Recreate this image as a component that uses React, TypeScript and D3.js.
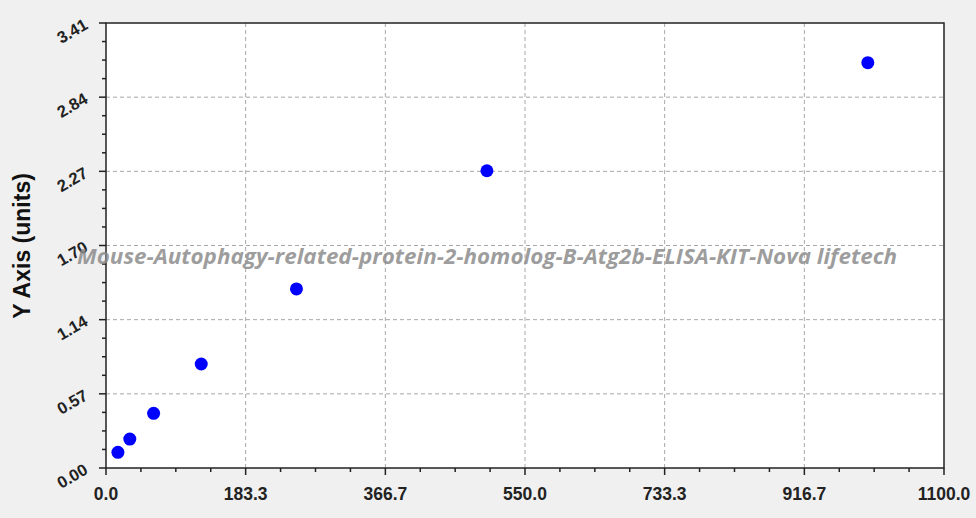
import React, { useEffect, useRef } from 'react';
import * as d3 from 'd3';

// standard curve points (concentration, OD)
const concentrations = [15.625, 31.25, 62.5, 125, 250, 500, 1000];
const odValues = [0.12, 0.222, 0.419, 0.797, 1.372, 2.278, 3.106];

const xTickValues = [0, 183.3, 366.7, 550.0, 733.3, 916.7, 1100.0];
const xTickLabels = ['0.0', '183.3', '366.7', '550.0', '733.3', '916.7', '1100.0'];
const yTickValues = [0, 0.5683, 1.1367, 1.705, 2.2733, 2.8417, 3.41];
const yTickLabels = ['0.00', '0.57', '1.14', '1.70', '2.27', '2.84', '3.41'];

const watermark = 'Mouse-Autophagy-related-protein-2-homolog-B-Atg2b-ELISA-KIT-Nova lifetech';

const W = 976;
const H = 518;
const margin = { left: 106, top: 23, right: 32, bottom: 50 };

const App: React.FC = () => {
    const ref = useRef<SVGSVGElement>(null);

    useEffect(() => {
        const svg = d3.select(ref.current);
        svg.selectAll('*').remove();

        const x0 = margin.left, x1 = W - margin.right;
        const y0 = H - margin.bottom, y1 = margin.top;

        const x = d3.scaleLinear().domain([0, 1100]).range([x0, x1]);
        const y = d3.scaleLinear().domain([0, 3.41]).range([y0, y1]);

        svg.append('rect').attr('width', W).attr('height', H).attr('fill', '#f0f0f0');
        svg.append('rect')
            .attr('x', x0).attr('y', y1)
            .attr('width', x1 - x0).attr('height', y0 - y1)
            .attr('fill', '#fff');

        // grid
        const grid = svg.append('g')
            .attr('stroke', '#a8a8a8')
            .attr('stroke-width', 1)
            .attr('stroke-dasharray', '4,3');
        grid.selectAll('.gx')
            .data(xTickValues.slice(1, -1))
            .enter().append('line')
            .attr('x1', d => x(d)).attr('x2', d => x(d))
            .attr('y1', y1).attr('y2', y0);
        grid.selectAll('.gy')
            .data(yTickValues.slice(1, -1))
            .enter().append('line')
            .attr('y1', d => y(d)).attr('y2', d => y(d))
            .attr('x1', x0).attr('x2', x1);

        // minor ticks
        const xMinor: number[] = [];
        const yMinor: number[] = [];
        for (let i = 0; i < xTickValues.length - 1; i++) {
            for (let k = 1; k < 4; k++) {
                xMinor.push(xTickValues[i] + (xTickValues[i + 1] - xTickValues[i]) * k / 4);
                yMinor.push(yTickValues[i] + (yTickValues[i + 1] - yTickValues[i]) * k / 4);
            }
        }

        const ticks = svg.append('g').attr('stroke', '#222').attr('stroke-width', 1.5);
        ticks.selectAll('.xt').data(xTickValues).enter().append('line')
            .attr('x1', d => x(d)).attr('x2', d => x(d))
            .attr('y1', y0).attr('y2', y0 + 7);
        ticks.selectAll('.xm').data(xMinor).enter().append('line')
            .attr('x1', d => x(d)).attr('x2', d => x(d))
            .attr('y1', y0).attr('y2', y0 + 4);
        ticks.selectAll('.yt').data(yTickValues).enter().append('line')
            .attr('y1', d => y(d)).attr('y2', d => y(d))
            .attr('x1', x0 - 7).attr('x2', x0);
        ticks.selectAll('.ym').data(yMinor).enter().append('line')
            .attr('y1', d => y(d)).attr('y2', d => y(d))
            .attr('x1', x0 - 4).attr('x2', x0);

        // frame
        svg.append('rect')
            .attr('x', x0).attr('y', y1)
            .attr('width', x1 - x0).attr('height', y0 - y1)
            .attr('fill', 'none')
            .attr('stroke', '#222')
            .attr('stroke-width', 1.5);

        // tick labels
        svg.append('g').selectAll('text')
            .data(xTickValues)
            .enter().append('text')
            .attr('x', d => x(d))
            .attr('y', 500)
            .attr('text-anchor', 'middle')
            .style('font-family', 'Arial, "Liberation Sans", sans-serif')
            .style('font-weight', 'bold')
            .style('font-size', '17.5px')
            .attr('fill', '#222')
            .text((_, i) => xTickLabels[i]);

        svg.append('g').selectAll('text')
            .data(yTickValues)
            .enter().append('text')
            .attr('transform', d => `translate(${x0 - 17},${y(d) + 5}) rotate(-30)`)
            .attr('text-anchor', 'end')
            .style('font-family', 'Arial, "Liberation Sans", sans-serif')
            .style('font-weight', 'bold')
            .style('font-size', '16.5px')
            .attr('fill', '#222')
            .text((_, i) => yTickLabels[i]);

        // watermark, drawn over the left labels like the original
        svg.append('text')
            .attr('x', 487)
            .attr('y', 264)
            .attr('text-anchor', 'middle')
            .attr('textLength', 820)
            .attr('lengthAdjust', 'spacingAndGlyphs')
            .style('font-family', '"Open Sans", "DejaVu Sans", sans-serif')
            .style('font-style', 'italic')
            .style('font-weight', 'bold')
            .style('font-size', '21px')
            .attr('fill', '#8c8c8c')
            .attr('fill-opacity', 0.85)
            .text(watermark);

        // axis title
        svg.append('text')
            .attr('transform', `translate(30,246) rotate(-90)`)
            .attr('text-anchor', 'middle')
            .style('font-family', 'Arial, "Liberation Sans", sans-serif')
            .style('font-weight', 'bold')
            .style('font-size', '23px')
            .attr('fill', '#111')
            .text('Y Axis (units)');

        // points
        svg.append('g').selectAll('circle')
            .data(concentrations)
            .enter().append('circle')
            .attr('cx', d => x(d))
            .attr('cy', (_, i) => y(odValues[i]))
            .attr('r', 6.5)
            .attr('fill', '#0000ff');
    }, []);

    return (
        <svg
            ref={ref}
            width={W}
            height={H}
            style={{ position: 'absolute', left: 0, top: 0, display: 'block' }}
        />
    );
};

export default App;
